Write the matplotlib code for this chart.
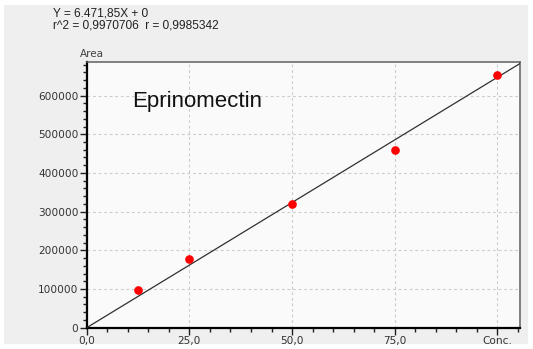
import matplotlib
matplotlib.use("Agg")
import matplotlib.pyplot as plt
from matplotlib.ticker import MultipleLocator, FixedLocator, FixedFormatter
from matplotlib.patches import Rectangle
import numpy as np

# Calibration data
conc = [12.5, 25.0, 50.0, 75.0, 100.0]
area = [98000, 178000, 320000, 459000, 652000]
slope = 6471.85
intercept = 0.0
r_squared = "0,9970706"
r_value = "0,9985342"
compound = "Eprinomectin"

x_ticks = [0, 25, 50, 75, 100]
x_labels = ["0,0", "25,0", "50,0", "75,0", "Conc."]
y_ticks = [0, 100000, 200000, 300000, 400000, 500000, 600000]
y_labels = ["0", "100000", "200000", "300000", "400000", "500000", "600000"]

W, H = 533, 349
fig = plt.figure(figsize=(W / 100, H / 100), dpi=100, facecolor="white")
fig.patches.append(Rectangle((4 / W, 5 / H), (W - 9) / W, (H - 10) / H,
                             transform=fig.transFigure, facecolor="#efefef",
                             edgecolor="none", zorder=-10))

ax = fig.add_axes([86.7 / W, 1 - 327.7 / H, (520 - 86.7) / W, (327.7 - 61.5) / H])
ax.set_facecolor("#fafafa")
xmax, ymax = 105.5, 688000
ax.set_xlim(0, xmax)
ax.set_ylim(0, ymax)

# Regression line and measured points
xl = np.array([0, xmax])
ax.plot(xl, slope * xl + intercept, color="#303030", lw=0.9, zorder=3)
ax.plot(conc, area, "o", color="#ff0000", ms=5.2, mec="#ff0000", zorder=4)

ax.xaxis.set_major_locator(FixedLocator(x_ticks))
ax.xaxis.set_major_formatter(FixedFormatter(x_labels))
ax.xaxis.set_minor_locator(MultipleLocator(5))
ax.yaxis.set_major_locator(FixedLocator(y_ticks))
ax.yaxis.set_major_formatter(FixedFormatter(y_labels))
ax.yaxis.set_minor_locator(MultipleLocator(20000))

ax.grid(True, which="major", ls=(0, (2.5, 2.5)), color="#cccccc", lw=0.8)
ax.tick_params(which="major", length=5, width=1, color="#202020",
               labelsize=7.6, labelcolor="#333333", pad=1)
ax.tick_params(which="minor", length=3, width=1, color="#202020")

for s in ["left", "bottom"]:
    ax.spines[s].set_color("black")
    ax.spines[s].set_linewidth(1.6)
for s in ["top", "right"]:
    ax.spines[s].set_color("#606060")
    ax.spines[s].set_linewidth(1.1)

ax.text(132 / W, 1 - 101 / H, compound, transform=fig.transFigure,
        fontsize=16, family="Liberation Sans", color="#111111", va="center")

fig.text(53 / W, 1 - 13 / H, f"Y = {slope:,.2f}X + 0".replace(",", "#").replace(".", ",").replace("#", "."),
         fontsize=8.6, family="Liberation Sans", color="#222222", va="center")
fig.text(53 / W, 1 - 26 / H, f"r^2 = {r_squared}  r = {r_value}",
         fontsize=8.6, family="Liberation Sans", color="#222222", va="center")
fig.text(80 / W, 1 - 54 / H, "Area", fontsize=7.5, color="#404040", va="center")

fig.savefig("out.png", dpi=100, facecolor=fig.get_facecolor())
